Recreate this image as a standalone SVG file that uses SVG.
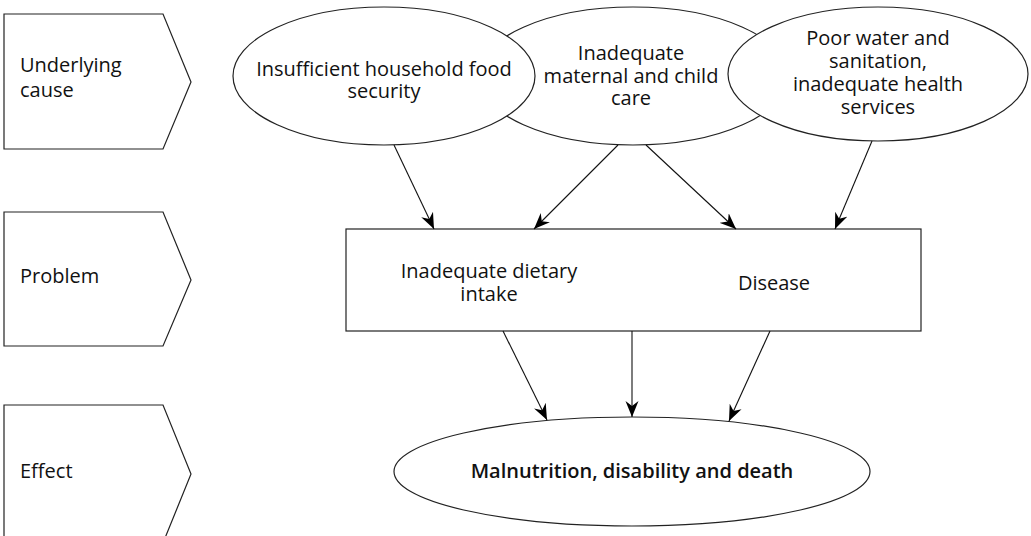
<svg xmlns="http://www.w3.org/2000/svg" width="1031" height="536" viewBox="0 0 1031 536">
<style>
.shape{fill:#fff;stroke:#222;stroke-width:1.2}
.lbl{font-family:"Open Sans","Noto Sans",sans-serif;font-size:20px;fill:#111}
.c{text-anchor:middle}
.b{font-weight:600}
.conn{stroke:#111;stroke-width:1.1;fill:none;marker-end:url(#ah)}
</style>
<defs>
<marker id="ah" markerWidth="18" markerHeight="14" viewBox="-16 -7 18 14" refX="0" refY="0" orient="auto" markerUnits="userSpaceOnUse">
<path d="M0,0 L-16,-6.5 L-11,0 L-16,6.5 Z" fill="#000"/>
</marker>
</defs>
<rect width="1031" height="536" fill="#fff"/>
<g id="stage-underlying">
<polygon class="shape" points="4,14 163,14 191,82 163,149 4,149"/>
<text class="lbl" x="20" y="72">Underlying<tspan x="20" dy="25">cause</tspan></text>
</g>
<g id="stage-problem">
<polygon class="shape" points="4,212 163,212 191,280 163,346 4,346"/>
<text class="lbl" x="20" y="283">Problem</text>
</g>
<g id="stage-effect">
<polygon class="shape" points="4,405 163,405 191,474 163,543 4,543"/>
<text class="lbl" x="20" y="478">Effect</text>
</g>
<g id="cause-care">
<ellipse class="shape" cx="633" cy="76" rx="155" ry="69"/>
<text class="lbl c" x="631" y="60">Inadequate<tspan x="631" dy="22.5">maternal and child</tspan><tspan x="631" dy="22.5">care</tspan></text>
</g>
<g id="cause-food">
<ellipse class="shape" cx="384" cy="76" rx="151" ry="69"/>
<text class="lbl c" x="384" y="76">Insufficient household food<tspan x="384" dy="21.5">security</tspan></text>
</g>
<g id="cause-water">
<ellipse class="shape" cx="878" cy="74" rx="150" ry="67"/>
<text class="lbl c" x="878" y="45">Poor water and<tspan x="878" dy="23">sanitation,</tspan><tspan x="878" dy="23">inadequate health</tspan><tspan x="878" dy="23">services</tspan></text>
</g>
<g id="problem-box">
<rect class="shape" x="346" y="229" width="575" height="102"/>
<text class="lbl c" x="489" y="278">Inadequate dietary<tspan x="489" dy="23">intake</tspan></text>
<text class="lbl c" x="774" y="290">Disease</text>
</g>
<g id="effect">
<ellipse class="shape" cx="632" cy="471.5" rx="238" ry="54.5"/>
<text class="lbl c b" x="632" y="478">Malnutrition, disability and death</text>
</g>
<g id="connectors">
<line class="conn" x1="394" y1="145" x2="434" y2="229"/>
<line class="conn" x1="618" y1="145" x2="534" y2="229"/>
<line class="conn" x1="646" y1="145" x2="736" y2="229"/>
<line class="conn" x1="872" y1="141" x2="835" y2="229"/>
<line class="conn" x1="503" y1="331" x2="547" y2="420"/>
<line class="conn" x1="632" y1="331" x2="632" y2="417"/>
<line class="conn" x1="770" y1="331" x2="729" y2="421"/>
</g>
</svg>
